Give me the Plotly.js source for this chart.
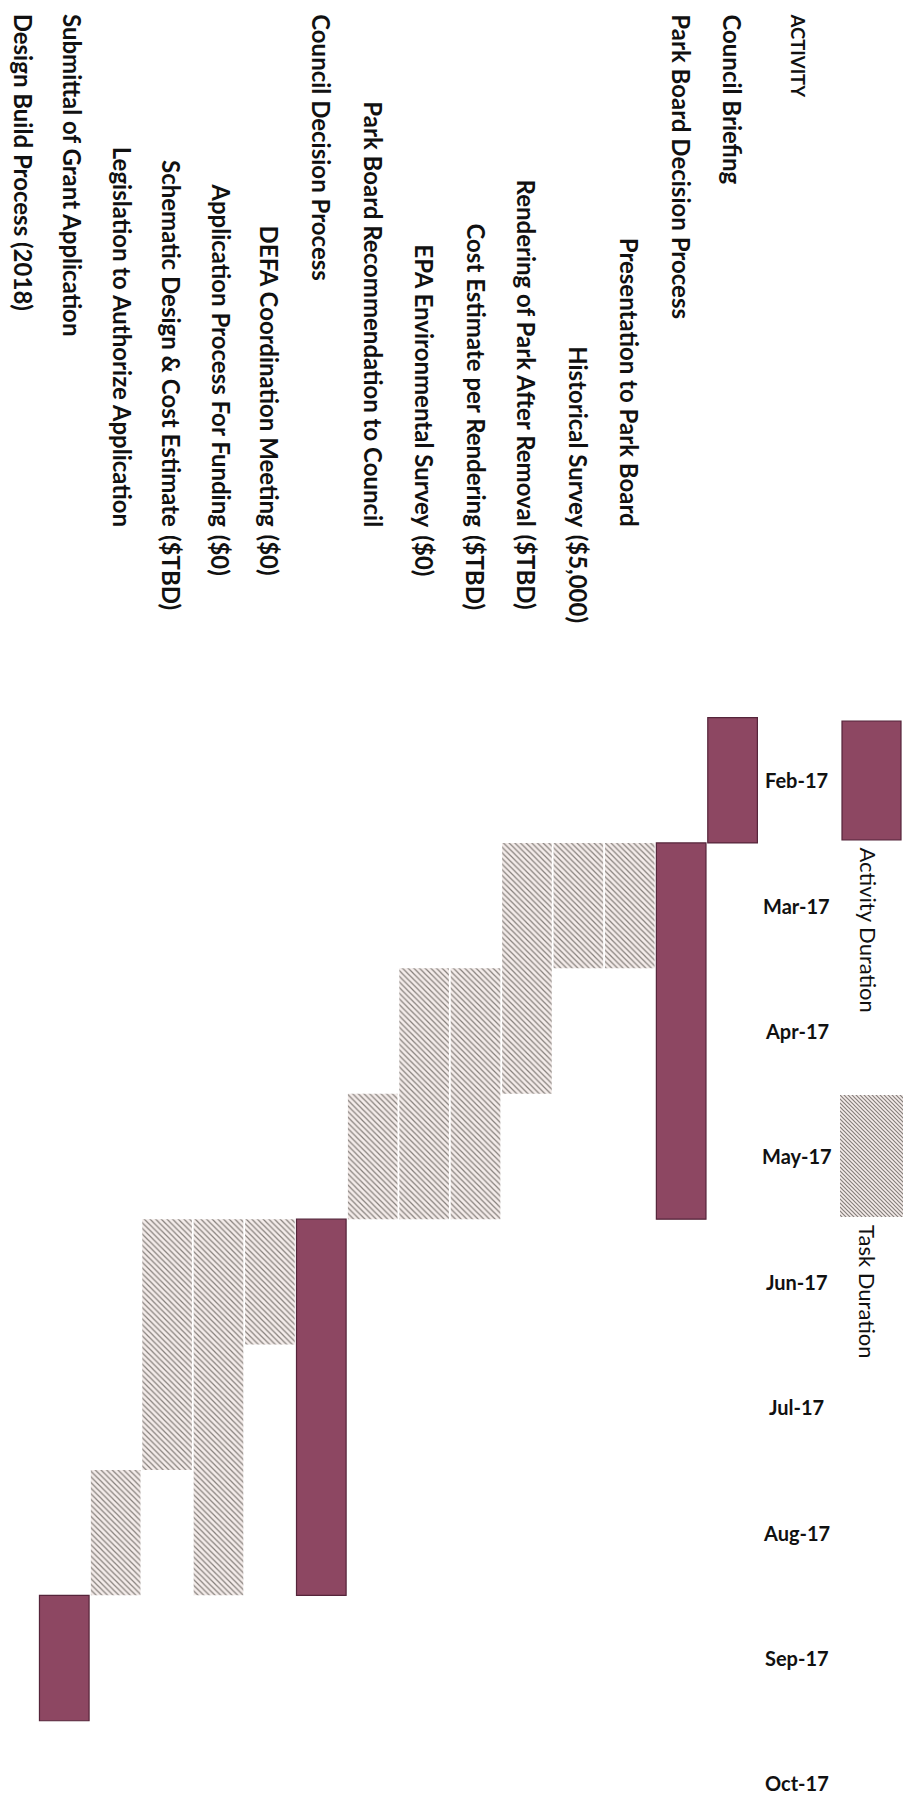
<!DOCTYPE html>
<html>
<head>
<meta charset="utf-8">
<script src="https://cdn.plot.ly/plotly-3.0.1.min.js"></script>
<style>
  html, body { margin: 0; padding: 0; background: #ffffff; }
  #chart { width: 912px; height: 1797px; }
</style>
</head>
<body>
<div id="chart"></div>
<script>
// ---------------- DATA ----------------
const months = ['Feb-17', 'Mar-17', 'Apr-17', 'May-17', 'Jun-17', 'Jul-17', 'Aug-17', 'Sep-17', 'Oct-17'];
const headerLabel = 'ACTIVITY';

const taskNames = [
  'Council Briefing',
  'Park Board Decision Process',
  'Presentation to Park Board',
  'Historical Survey',
  'Rendering of Park After Removal',
  'Cost Estimate per Rendering',
  'EPA Environmental Survey',
  'Park Board Recommendation to Council',
  'Council Decision Process',
  'DEFA Coordination Meeting',
  'Application Process For Funding',
  'Schematic Design & Cost Estimate',
  'Legislation to Authorize Application',
  'Submittal of Grant Application',
  'Design Build Process (2018)'
];
const taskCosts = ['', '', '', '($5,000)', '($TBD)', '($TBD)', '($0)', '', '', '($0)', '($0)', '($TBD)', '', '', ''];
const taskKinds = ['Activity', 'Activity', 'Task', 'Task', 'Task', 'Task', 'Task', 'Task',
                   'Activity', 'Task', 'Task', 'Task', 'Task', 'Activity', 'Activity'];
const startMonths = ['Feb-17', 'Mar-17', 'Mar-17', 'Mar-17', 'Mar-17', 'Apr-17', 'Apr-17', 'May-17',
                     'Jun-17', 'Jun-17', 'Jun-17', 'Jun-17', 'Aug-17', 'Sep-17', null];
const endMonths   = ['Feb-17', 'May-17', 'Mar-17', 'Mar-17', 'Apr-17', 'May-17', 'May-17', 'May-17',
                     'Aug-17', 'Jun-17', 'Aug-17', 'Jul-17', 'Aug-17', 'Sep-17', null];
const legendLabels = ['Activity Duration', 'Task Duration'];

// ---------------- STYLE / LAYOUT ----------------
const W = 912, H = 1797;
const FONT = 'Lato, "Open Sans", "DejaVu Sans", sans-serif';
const MAROON = '#8d4762';
const MAROON_LINE = '#55243a';
const HATCH_FG = '#86807c';
const HATCH_BG = '#f4ecea';

const px = v => v / W;        // page x -> paper x
const py = v => 1 - v / H;    // page y -> paper y

function buildTrace(kind) {
  const xs = [], bases = [], lens = [], names = [];
  taskNames.forEach((n, i) => {
    if (taskKinds[i] !== kind || !startMonths[i]) return;
    const s = months.indexOf(startMonths[i]);
    const e = months.indexOf(endMonths[i]);
    xs.push(i + 1);
    bases.push(s);
    lens.push(e - s + 1);
    names.push(n);
  });
  const t = {
    type: 'bar', orientation: 'v',
    x: xs, y: lens, base: bases, width: 0.965,
    text: names, textposition: 'none', hoverinfo: 'text',
    name: kind === 'Activity' ? legendLabels[0] : legendLabels[1],
    showlegend: false
  };
  if (kind === 'Activity') {
    t.marker = { color: MAROON, line: { color: MAROON_LINE, width: 1.2 } };
  } else {
    t.marker = {
      color: HATCH_BG,
      line: { width: 0 },
      pattern: { shape: '\\', fgcolor: HATCH_FG, bgcolor: HATCH_BG, size: 4, solidity: 0.3 }
    };
  }
  return t;
}

const traces = [buildTrace('Activity'), buildTrace('Task')];

const labelFont = { family: FONT, size: 24, color: '#111111', weight: 700 };
const annotations = [];

// slight drift of the scanned labels towards the lower rows
const labelShift = row => Math.max(0, row - 10) * 2.2;

// header
annotations.push({
  text: headerLabel, xref: 'x', x: 0, xshift: 15, yref: 'paper', y: py(13),
  xanchor: 'center', yanchor: 'top', textangle: 90, showarrow: false, borderpad: 0,
  font: { family: FONT, size: 18.5, color: '#111111', weight: 700 }
});

// row labels
taskNames.forEach((n, i) => {
  const row = i + 1;
  if (taskKinds[i] === 'Activity') {
    annotations.push({
      text: n, xref: 'x', x: row, xshift: labelShift(row), yref: 'paper', y: py(13),
      xanchor: 'center', yanchor: 'top', textangle: 90, showarrow: false, borderpad: 0,
      font: labelFont
    });
  } else {
    annotations.push({
      text: n, xref: 'x', x: row, xshift: labelShift(row), yref: 'paper', y: py(528),
      xanchor: 'center', yanchor: 'bottom', textangle: 90, showarrow: false, borderpad: 0,
      font: labelFont
    });
    if (taskCosts[i]) {
      annotations.push({
        text: taskCosts[i], xref: 'x', x: row, xshift: labelShift(row), yref: 'paper', y: py(534),
        xanchor: 'center', yanchor: 'top', textangle: 90, showarrow: false, borderpad: 0,
        font: labelFont
      });
    }
  }
});

// month header labels
months.forEach((m, i) => {
  annotations.push({
    text: m, xref: 'x', x: 0, xshift: 13, yref: 'y', y: i + 0.5,
    xanchor: 'center', yanchor: 'middle', showarrow: false, borderpad: 0,
    font: { family: FONT, size: 20, color: '#111111', weight: 700 }
  });
});

// legend texts
annotations.push({
  text: legendLabels[0], xref: 'paper', x: px(868), yref: 'paper', y: py(846),
  xanchor: 'center', yanchor: 'top', textangle: 90, showarrow: false, borderpad: 0,
  font: { family: FONT, size: 22, color: '#111111' }
});
annotations.push({
  text: legendLabels[1], xref: 'paper', x: px(868), yref: 'paper', y: py(1224),
  xanchor: 'center', yanchor: 'top', textangle: 90, showarrow: false, borderpad: 0,
  font: { family: FONT, size: 22, color: '#111111' }
});

// legend swatches
const shapes = [{
  type: 'rect', xref: 'paper', yref: 'paper',
  x0: px(842), x1: px(901), y0: py(721), y1: py(840),
  fillcolor: MAROON, line: { color: MAROON_LINE, width: 1.2 }
}];

const hatchSvg =
  "<svg xmlns='http://www.w3.org/2000/svg' width='63' height='122'>" +
  "<defs><pattern id='p' width='4' height='4' patternUnits='userSpaceOnUse'>" +
  "<rect width='4' height='4' fill='" + HATCH_BG + "'/>" +
  "<path d='M0,0 L4,4 M-1,3 L1,5 M3,-1 L5,1' stroke='" + HATCH_FG + "' stroke-width='1.2'/>" +
  "</pattern></defs><rect width='63' height='122' fill='url(#p)'/></svg>";

const images = [{
  source: 'data:image/svg+xml;charset=utf-8,' + encodeURIComponent(hatchSvg),
  xref: 'paper', yref: 'paper', x: px(840), y: py(1095),
  sizex: (903 - 840) / W, sizey: (1217 - 1095) / H,
  xanchor: 'left', yanchor: 'top', sizing: 'stretch', layer: 'above'
}];

const layout = {
  width: W, height: H,
  margin: { l: 0, r: 0, t: 0, b: 0, pad: 0 },
  paper_bgcolor: '#ffffff', plot_bgcolor: '#ffffff',
  showlegend: false,
  barmode: 'overlay',
  xaxis: { range: [15.25, -2.49], visible: false, fixedrange: true },
  yaxis: { range: [8.608, -5.722], visible: false, fixedrange: true },
  annotations: annotations,
  shapes: shapes,
  images: images
};

Plotly.newPlot('chart', traces, layout, { displayModeBar: false, staticPlot: true });
</script>
</body>
</html>
